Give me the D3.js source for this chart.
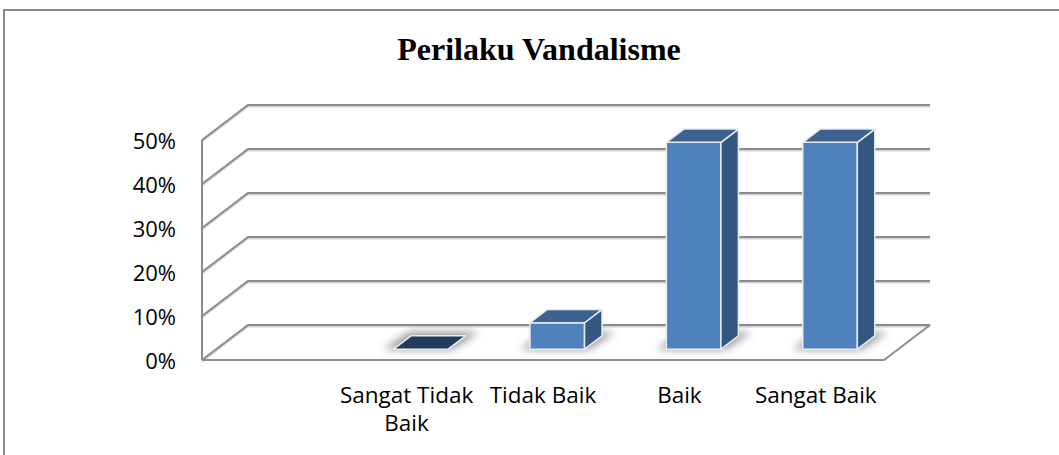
<!DOCTYPE html>
<html>
<head>
<meta charset="utf-8">
<script src="https://cdn.jsdelivr.net/npm/d3@7"></script>
<style>
  body { margin: 0; background: #fff; }
  svg { display: block; }
</style>
</head>
<body>
<svg id="chart" width="1059" height="455"></svg>
<script>
// chart data
const categories = ["", "Sangat Tidak Baik", "Tidak Baik", "Baik", "Sangat Baik"];
const categoryLines = [[], ["Sangat Tidak", "Baik"], ["Tidak Baik"], ["Baik"], ["Sangat Baik"]];
const values = [null, 0, 0.06, 0.47, 0.47];
const tickValues = [0, 0.1, 0.2, 0.3, 0.4, 0.5];
const tickLabels = ["0%", "10%", "20%", "30%", "40%", "50%"];
const title = "Perilaku Vandalisme";

const svg = d3.select('#chart');

// 3d oblique offsets (floor depth)
const DX = 46, DY = 35;
const barFront = 0.31, barBack = 0.69;

const x = d3.scaleBand().domain(categories).range([202, 884]).padding(0);
const y = d3.scaleLinear().domain([0, 0.5]).range([360, 140]);

// point in plot space: category pixel x, value, depth fraction
const P = (px, v, depth) => [px + depth * DX, y(v) - depth * DY];

const defs = svg.append('defs');
defs.append('filter').attr('id', 'blur')
    .attr('x', '-50%').attr('y', '-50%').attr('width', '200%').attr('height', '200%')
    .append('feGaussianBlur').attr('stdDeviation', 4);
defs.append('filter').attr('id', 'soft')
    .attr('x', '-10%').attr('y', '-50%').attr('width', '120%').attr('height', '200%')
    .append('feGaussianBlur').attr('stdDeviation', 0.6);

// outer chart border
svg.append('path')
    .attr('d', 'M4,455 L4,10 L1059,10')
    .attr('fill', 'none')
    .attr('stroke', '#8a8a8a')
    .attr('stroke-width', 2);

svg.append('text')
    .attr('x', 539)
    .attr('y', 60)
    .attr('text-anchor', 'middle')
    .attr('font-family', '"Liberation Serif", "Times New Roman", serif')
    .attr('font-weight', 'bold')
    .attr('font-size', 32)
    .attr('fill', '#000')
    .text(title);

// gridlines / walls
const grid = svg.append('g')
    .attr('fill', 'none')
    .attr('stroke', '#8c8c8c')
    .attr('stroke-width', 2);

const x0 = x.range()[0], x1 = x.range()[1];
const line = d3.line();

tickValues.forEach(v => {
    grid.append('path')
        .attr('d', line([P(x0, v, 0), P(x0, v, 1), [x1 + DX, y(v) - DY]]))
        .attr('stroke', '#d4d4d4')
        .attr('stroke-width', 2)
        .attr('transform', 'translate(0,1.5)')
        .attr('filter', 'url(#soft)');
    grid.append('path')
        .attr('d', line([P(x0, v, 0), P(x0, v, 1), [x1 + DX, y(v) - DY]]));
});

// left wall front edge
grid.append('path')
    .attr('d', line([[x0, y(0)], [x0, y(0.5)]]));

// floor front and right edges
grid.append('path')
    .attr('d', line([[x0, y(0)], [x1, y(0)], P(x1, 0, 1)]));

// y tick labels
svg.append('g')
    .selectAll('text')
    .data(tickValues)
    .join('text')
    .attr('x', 176)
    .attr('y', d => y(d) + 1.5)
    .attr('dy', '0.36em')
    .attr('text-anchor', 'end')
    .attr('font-family', '"Open Sans", sans-serif')
    .attr('font-size', 22)
    .attr('fill', '#000')
    .text((d, i) => tickLabels[i]);

// category labels
const catG = svg.append('g')
    .attr('font-family', '"Open Sans", sans-serif')
    .attr('font-size', 22.5)
    .attr('fill', '#000')
    .attr('text-anchor', 'middle');

categories.forEach((c, i) => {
    categoryLines[i].forEach((ln, j) => {
        catG.append('text')
            .attr('x', x(c) + x.bandwidth() / 2)
            .attr('y', 403 + j * 28)
            .text(ln);
    });
});

// bars
const barW = x.bandwidth() * 0.4;
const bars = svg.append('g');

categories.forEach((c, i) => {
    const v = values[i];
    if (v === null) return;
    const bl = x(c) + (x.bandwidth() - barW) / 2;
    const br = bl + barW;

    // shadow on the floor
    bars.append('path')
        .attr('d', line([
            P(bl - 10, 0, barFront), P(br + 4, 0, barFront),
            P(br + 8, 0, barBack + 0.1), P(bl - 6, 0, barBack + 0.1)
        ]) + 'Z')
        .attr('fill', '#6e6e6e')
        .attr('opacity', 0.75)
        .attr('filter', 'url(#blur)');

    const g = bars.append('g')
        .attr('stroke', '#e6ecf3')
        .attr('stroke-width', 1.5)
        .attr('stroke-linejoin', 'round');

    if (v === 0) {
        g.append('path')
            .attr('d', line([P(bl, 0, barFront), P(br, 0, barFront), P(br, 0, barBack), P(bl, 0, barBack)]) + 'Z')
            .attr('fill', '#243a5a');
        return;
    }

    // front face
    g.append('path')
        .attr('d', line([P(bl, 0, barFront), P(br, 0, barFront), P(br, v, barFront), P(bl, v, barFront)]) + 'Z')
        .attr('fill', '#4f81bd');
    // side face
    g.append('path')
        .attr('d', line([P(br, 0, barFront), P(br, 0, barBack), P(br, v, barBack), P(br, v, barFront)]) + 'Z')
        .attr('fill', '#335781');
    // top face
    g.append('path')
        .attr('d', line([P(bl, v, barFront), P(br, v, barFront), P(br, v, barBack), P(bl, v, barBack)]) + 'Z')
        .attr('fill', '#3d6291');
});
</script>
</body>
</html>
